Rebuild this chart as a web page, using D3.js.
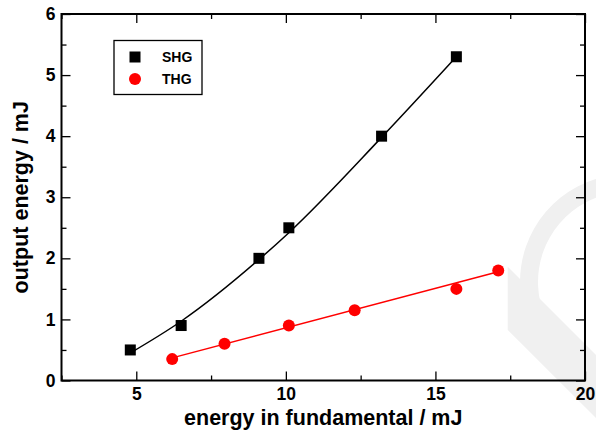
<!DOCTYPE html>
<html><head><meta charset="utf-8">
<script src="https://cdn.jsdelivr.net/npm/d3@7"></script>
<style>
body{margin:0;background:#fff;}
svg{display:block;font-family:"Liberation Sans",Arial,sans-serif;}
</style></head>
<body><svg id="c" width="596" height="435"></svg>
<script>
// data
const shgX = [4.8, 6.5, 9.1, 10.1, 13.2, 15.7];
const shgY = [0.5, 0.9, 2.0, 2.5, 4.0, 5.3];
const thgX = [6.2, 7.95, 10.1, 12.3, 15.7, 17.1];
const thgY = [0.35, 0.6, 0.9, 1.15, 1.5, 1.8];
// fitted guide lines
const shgFitX = [4.8, 6.5, 9.1, 10.1, 13.2, 15.7];
const shgFitY = [0.45, 0.97, 1.98, 2.42, 3.98, 5.3];
const thgFitX = [6.2, 17.1];
const thgFitY = [0.37, 1.78];
const xTicks = [5, 10, 15, 20];
const xMinor = [2.5, 7.5, 12.5, 17.5];
const yTicks = [0, 1, 2, 3, 4, 5, 6];
const yMinor = [0.5, 1.5, 2.5, 3.5, 4.5, 5.5];
const seriesNames = ["SHG", "THG"];
const seriesColors = ["#000000", "#ff0000"];
const xTitle = "energy in fundamental / mJ";
const yTitle = "output energy / mJ";

const svg = d3.select("#c");
const L = 61.5, R = 585, T = 14, B = 380.5;
const x = d3.scaleLinear().domain([2.5, 20]).range([L, R]);
const y = d3.scaleLinear().domain([0, 6]).range([B, T]);

// faint watermark
const wm = svg.append("g").attr("fill", "#f0f0f0");
wm.append("path").attr("transform", "translate(628,282)")
  .attr("d", d3.arc()({innerRadius: 90, outerRadius: 108, startAngle: 1.25 * Math.PI, endAngle: 2.2 * Math.PI}));
wm.append("polygon").attr("points", "507.7,266.7 596,355 596,418 507.7,330");

// lines
svg.append("path").datum(d3.zip(shgFitX, shgFitY))
  .attr("d", d3.line().x(d => x(d[0])).y(d => y(d[1])).curve(d3.curveMonotoneX))
  .attr("fill", "none").attr("stroke", seriesColors[0]).attr("stroke-width", 1.5);
svg.append("path").datum(d3.zip(thgFitX, thgFitY))
  .attr("d", d3.line().x(d => x(d[0])).y(d => y(d[1]))).attr("fill", "none")
  .attr("stroke", seriesColors[1]).attr("stroke-width", 1.5);

// markers
const sq = 11;
svg.append("g").selectAll("rect").data(d3.zip(shgX, shgY)).join("rect")
  .attr("x", d => x(d[0]) - sq / 2).attr("y", d => y(d[1]) - sq / 2)
  .attr("width", sq).attr("height", sq).attr("fill", seriesColors[0]);
svg.append("g").selectAll("circle").data(d3.zip(thgX, thgY)).join("circle")
  .attr("cx", d => x(d[0])).attr("cy", d => y(d[1])).attr("r", 6)
  .attr("fill", seriesColors[1]);

// axes (ticks inward)
const fmt = d3.format("d");
function styleAxis(g) {
  g.select(".domain").remove();
  g.selectAll("line").attr("stroke", "#000").attr("stroke-width", 1.3);
  g.selectAll("text").attr("font-size", 17.5).attr("font-weight", "bold").attr("fill", "#000");
}
svg.append("g").attr("transform", `translate(0,${B})`)
  .call(d3.axisBottom(x).tickValues(xTicks).tickFormat(fmt).tickSizeInner(-9).tickPadding(7))
  .call(styleAxis);
svg.append("g").attr("transform", `translate(0,${B})`)
  .call(d3.axisBottom(x).tickValues(xMinor).tickFormat("").tickSizeInner(-5)).call(styleAxis);
svg.append("g").attr("transform", `translate(0,${T})`)
  .call(d3.axisTop(x).tickValues(xTicks).tickFormat("").tickSizeInner(-9)).call(styleAxis);
svg.append("g").attr("transform", `translate(0,${T})`)
  .call(d3.axisTop(x).tickValues(xMinor).tickFormat("").tickSizeInner(-5)).call(styleAxis);
svg.append("g").attr("transform", `translate(${L},0)`)
  .call(d3.axisLeft(y).tickValues(yTicks).tickFormat(fmt).tickSizeInner(-9).tickPadding(6))
  .call(styleAxis);
svg.append("g").attr("transform", `translate(${L},0)`)
  .call(d3.axisLeft(y).tickValues(yMinor).tickFormat("").tickSizeInner(-5)).call(styleAxis);
svg.append("g").attr("transform", `translate(${R},0)`)
  .call(d3.axisRight(y).tickValues(yTicks).tickFormat("").tickSizeInner(-9)).call(styleAxis);
svg.append("g").attr("transform", `translate(${R},0)`)
  .call(d3.axisRight(y).tickValues(yMinor).tickFormat("").tickSizeInner(-5)).call(styleAxis);

// frame
svg.append("rect").attr("x", L).attr("y", T).attr("width", R - L).attr("height", B - T)
  .attr("fill", "none").attr("stroke", "#000").attr("stroke-width", 2);

// titles
svg.append("text").attr("x", (L + R) / 2).attr("y", 425).attr("text-anchor", "middle")
  .attr("font-size", 21.5).attr("font-weight", "bold").text(xTitle);
svg.append("text").attr("transform", `translate(28,${(T + B) / 2}) rotate(-90)`)
  .attr("text-anchor", "middle").attr("font-size", 21.5).attr("font-weight", "bold").text(yTitle);

// legend
const lg = svg.append("g");
lg.append("rect").attr("x", 114).attr("y", 40.5).attr("width", 88).attr("height", 54)
  .attr("fill", "#fff").attr("stroke", "#000").attr("stroke-width", 1.3);
lg.append("rect").attr("x", 135 - sq / 2).attr("y", 57 - sq / 2).attr("width", sq).attr("height", sq)
  .attr("fill", seriesColors[0]);
lg.append("circle").attr("cx", 135).attr("cy", 79).attr("r", 6).attr("fill", seriesColors[1]);
lg.selectAll("text").data(seriesNames).join("text")
  .attr("x", 162).attr("y", (d, i) => 62 + i * 22)
  .attr("font-size", 14).attr("font-weight", "bold").text(d => d);
</script></body></html>
